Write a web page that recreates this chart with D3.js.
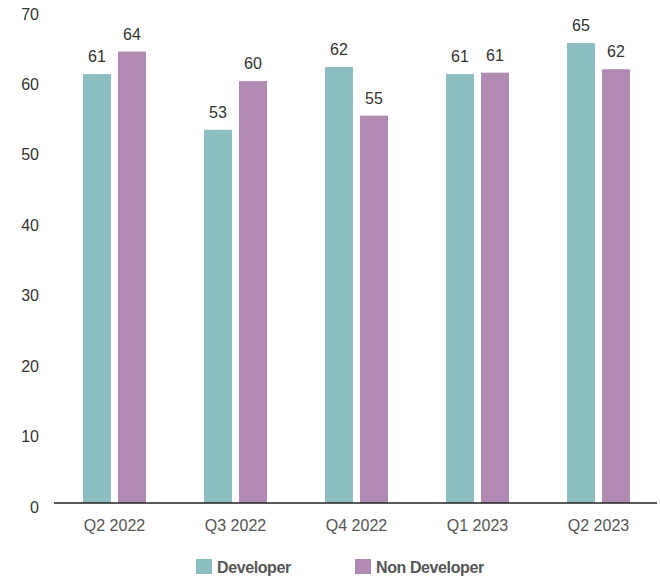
<!DOCTYPE html>
<html>
<head>
<meta charset="utf-8">
<script src="https://cdn.jsdelivr.net/npm/d3@7/dist/d3.min.js"></script>
<style>
  html, body { margin: 0; padding: 0; background: #fff; }
  svg { display: block; font-family: "Liberation Sans", Arial, Helvetica, sans-serif; }
</style>
</head>
<body>
<svg id="chart" width="660" height="577"></svg>
<script>
// Quarterly scores by respondent group
const quarters = ["Q2 2022", "Q3 2022", "Q4 2022", "Q1 2023", "Q2 2023"];
const seriesNames = ["Developer", "Non Developer"];
const developer = [60.9, 53.0, 61.9, 60.9, 65.3];
const nonDeveloper = [64.1, 59.9, 55.0, 61.1, 61.6];
const yTicks = [0, 10, 20, 30, 40, 50, 60, 70];
const colors = ["#8cbdc1", "#b08ab2"];

const svg = d3.select("#chart");
const margin = { top: 10, left: 54, right: 1, bottom: 74 };
const W = 660, H = 577;

const x0 = d3.scaleBand().domain(quarters).range([margin.left, W - margin.right]).paddingInner(0).paddingOuter(0);
const y = d3.scaleLinear().domain([0, 70]).range([503, 10]);

const rows = quarters.map((q, i) => ({ q, vals: [developer[i], nonDeveloper[i]] }));

// bars: two per quarter, 28px wide with a 7px gap
const barW = 28, gap = 7;
const x1 = d3.scaleOrdinal().domain([0, 1]).range([-(barW + gap / 2), gap / 2]);

const g = svg.append("g");
const groups = g.selectAll("g.grp").data(rows).join("g")
  .attr("class", "grp")
  .attr("transform", d => `translate(${x0(d.q) + x0.bandwidth() / 2},0)`);

groups.selectAll("rect").data(d => d.vals.map((v, k) => ({ v, k }))).join("rect")
  .attr("x", d => x1(d.k))
  .attr("width", barW)
  .attr("y", d => y(d.v))
  .attr("height", d => y(0) - y(d.v))
  .attr("fill", d => colors[d.k]);

groups.selectAll("text.val").data(d => d.vals.map((v, k) => ({ v, k }))).join("text")
  .attr("class", "val")
  .attr("x", d => x1(d.k) + barW / 2)
  .attr("y", d => y(d.v) - 12)
  .attr("text-anchor", "middle")
  .attr("fill", "#333")
  .attr("font-size", 16)
  .text(d => d3.format(".0f")(d.v));

// y axis labels only (no line)
const yAxis = d3.axisLeft(y).tickValues(yTicks).tickSize(0).tickPadding(0);
const ya = svg.append("g").attr("transform", "translate(39,4)").call(yAxis);
ya.select(".domain").remove();
ya.selectAll("text").attr("font-size", 16).attr("fill", "#333")
  .attr("font-family", "Liberation Sans, Arial, sans-serif");

// x axis baseline and labels
const xAxis = d3.axisBottom(x0).tickSize(0).tickPadding(0);
const xa = svg.append("g").attr("transform", `translate(0,${y(0)})`).call(xAxis);
xa.select(".domain").attr("stroke", "#222").attr("stroke-width", 1.5).attr("d", `M${margin.left},0H${W - 3}`);
xa.selectAll("text").attr("font-size", 16).attr("fill", "#555").attr("dy", "0")
  .attr("y", 28)
  .attr("font-family", "Liberation Sans, Arial, sans-serif");

// legend
const legendX = [196, 355];
const lg = svg.append("g").selectAll("g").data(seriesNames).join("g")
  .attr("transform", (d, i) => `translate(${legendX[i]},559)`);
lg.append("rect").attr("width", 16).attr("height", 15).attr("fill", (d, i) => colors[i]);
lg.append("text").attr("x", 21).attr("y", 14)
  .attr("font-size", 16).attr("font-weight", "bold").attr("fill", "#555")
  .attr("letter-spacing", "-0.4")
  .text(d => d);
</script>
</body>
</html>
